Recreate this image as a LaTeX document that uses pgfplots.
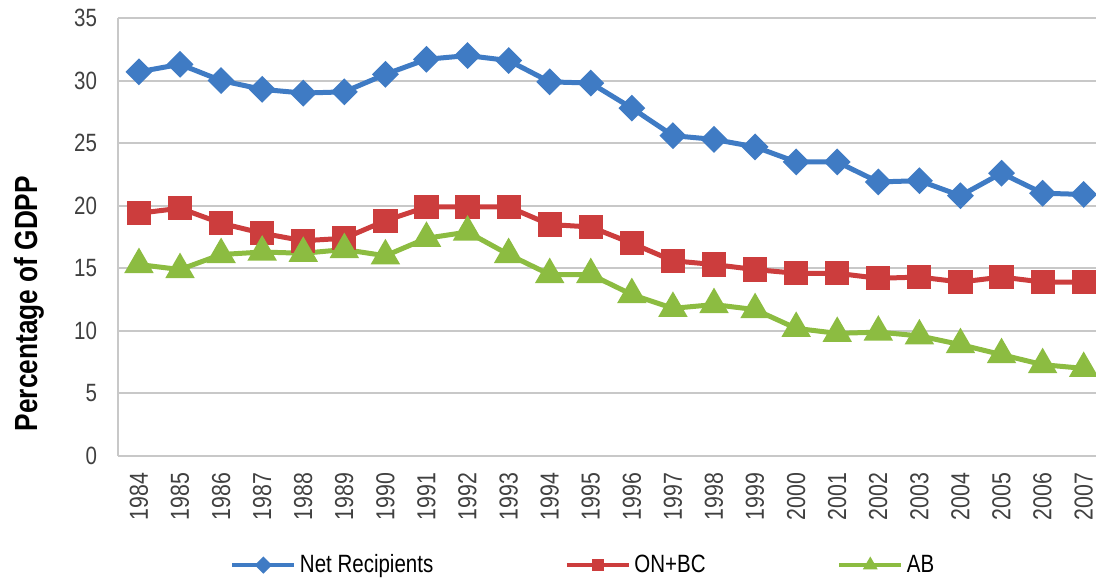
\documentclass[border=0pt]{standalone}
\usepackage{fontspec}
\setmainfont[FakeStretch=0.82]{Liberation Sans}
\usepackage{pgfplots}
\pgfplotsset{compat=1.18}
\definecolor{cblue}{HTML}{3F7BC4}
\definecolor{cred}{HTML}{CC3D3D}
\definecolor{cgreen}{HTML}{8CBC41}
\definecolor{gridc}{HTML}{C8C8C8}
\begin{document}
\begin{tikzpicture}
\useasboundingbox (-59pt,-62pt) rectangle (489pt,228pt);
\begin{axis}[
  at={(0,0)}, anchor=south west,
  scale only axis, width=489pt, height=219pt,
  xmin=1983.49, xmax=2007.3, ymin=0, ymax=35,
  xtick={1984,...,2007},
  xticklabel style={rotate=90, anchor=east, font=\fontsize{13}{13}\selectfont, text=black!75},
  x tick label style={/pgf/number format/.cd, 1000 sep={}},
  xticklabel shift=5pt,
  ytick={0,5,...,35},
  yticklabel style={font=\fontsize{12.5}{12.5}\selectfont, text=black!75},
  yticklabel shift=7pt,
  /pgf/number format/assume math mode=true,
  ymajorgrids, grid style={gridc, line width=1pt},
  axis x line*=bottom, axis y line*=left,
  axis line style={gridc, line width=1pt, -},
  major tick length=0pt,
  ylabel={\bfseries Percentage of GDPP},
  every axis y label/.style={at={(axis description cs:-0.091,0.348)}, rotate=90, anchor=center, font=\fontsize{16}{16}\selectfont},
  legend columns=3,
  legend style={draw=none, at={(0.477,-0.249)}, anchor=center, font=\fontsize{12.5}{12.5}\selectfont,
    /tikz/every even column/.append style={column sep=64pt}},
  legend image code/.code={\draw[#1, line width=1.6pt] (0pt,0pt) -- (31pt,0pt); \draw[#1, mark size=1.8pt] plot coordinates {(15.5pt,0pt)};},
  clip=false,
]
\addplot[cblue, line width=2.5pt, mark=square*, mark size=3.5pt, mark options={rotate=45}] coordinates {
(1984,30.7)(1985,31.3)(1986,30.0)(1987,29.3)(1988,29.0)(1989,29.1)(1990,30.5)(1991,31.7)
(1992,32.0)(1993,31.6)(1994,29.9)(1995,29.8)(1996,27.8)(1997,25.6)(1998,25.3)(1999,24.7)
(2000,23.5)(2001,23.5)(2002,21.9)(2003,22.0)(2004,20.8)(2005,22.6)(2006,21.0)(2007,20.9)};
\addlegendentry{Net Recipients}
\addplot[cred, line width=2.5pt, mark=square*, mark size=4.8pt] coordinates {
(1984,19.4)(1985,19.8)(1986,18.6)(1987,17.8)(1988,17.2)(1989,17.4)(1990,18.8)(1991,19.9)
(1992,19.9)(1993,19.9)(1994,18.5)(1995,18.3)(1996,17.0)(1997,15.6)(1998,15.3)(1999,14.9)
(2000,14.6)(2001,14.6)(2002,14.2)(2003,14.3)(2004,13.9)(2005,14.3)(2006,13.9)(2007,13.9)};
\addlegendentry{ON+BC}
\addplot[cgreen, line width=2.5pt, mark=triangle*, mark size=6pt] coordinates {
(1984,15.3)(1985,14.9)(1986,16.1)(1987,16.3)(1988,16.2)(1989,16.5)(1990,16.0)(1991,17.4)
(1992,17.9)(1993,16.1)(1994,14.5)(1995,14.5)(1996,12.9)(1997,11.8)(1998,12.1)(1999,11.7)
(2000,10.2)(2001,9.8)(2002,9.9)(2003,9.6)(2004,8.9)(2005,8.1)(2006,7.3)(2007,7.0)};
\addlegendentry{AB}
\end{axis}
\end{tikzpicture}
\end{document}
